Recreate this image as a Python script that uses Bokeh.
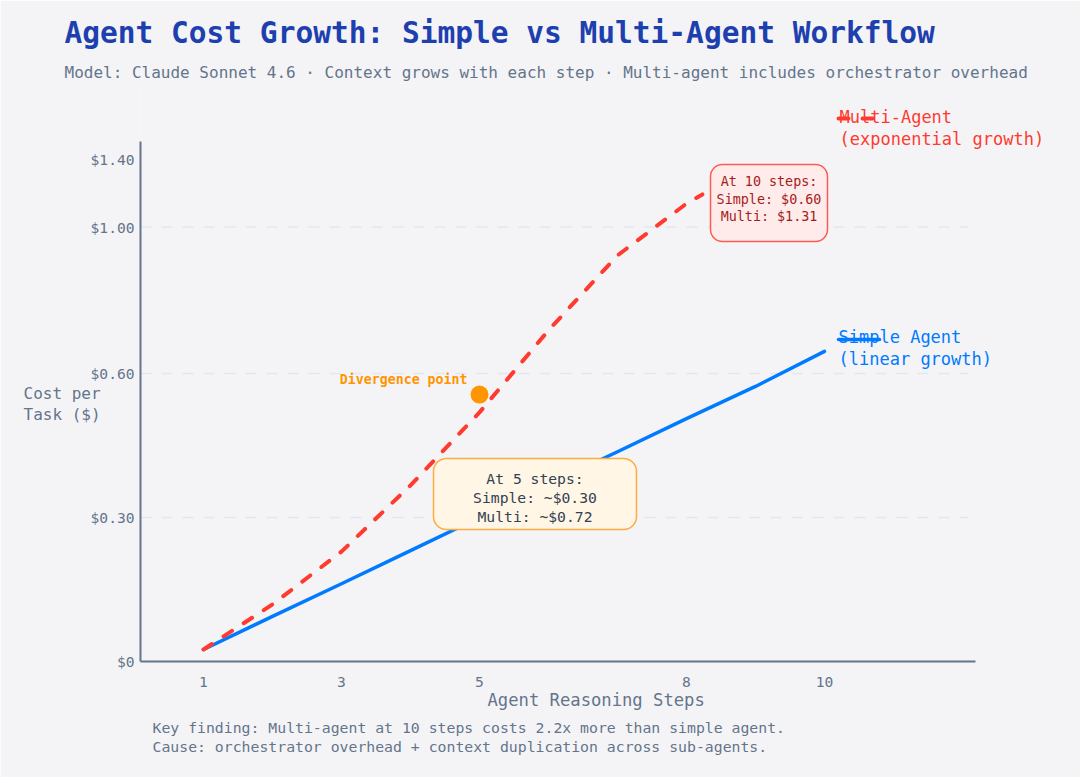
from bokeh.plotting import figure
from bokeh.models import FixedTicker, Label, Range1d, BoxAnnotation, ColumnDataSource, Title
from bokeh.embed import file_html
from bokeh.resources import INLINE

# ---------------- data ----------------
steps_simple = [1, 2, 3, 4, 5, 6, 7, 8, 9, 10]
cost_simple = [0.025, 0.094, 0.162, 0.231, 0.300, 0.369, 0.437, 0.506, 0.573, 0.646]
steps_multi = [1, 2, 3, 4, 5, 6, 7, 8, 8.23]
cost_multi = [0.025, 0.119, 0.229, 0.367, 0.519, 0.690, 0.846, 0.954, 0.973]
divergence_step = [5]
divergence_cost = [0.556]
x_ticks = [1, 3, 5, 8, 10]
x_tick_labels = ["1", "3", "5", "8", "10"]
y_tick_pos = [0.0, 0.30, 0.60, 0.905, 1.046]
y_tick_labels = ["$0", "$0.30", "$0.60", "$1.00", "$1.40"]
grid_pos = [0.30, 0.60, 0.905]

# ---------------- layout helpers ----------------
BG = "#f4f4f7"
AXIS = "#64748b"
FONT = "DejaVu Sans Mono"
BLUE = "#007aff"
RED = "#ff3b30"
ORANGE = "#ff9500"

STEP1_PX, STEP_PX = 203, 69.0
ZERO_PX, DOLLAR_PX = 661, 480.0
FRAME_TOP_PX = 83


def X(px):
    return 1 + (px - STEP1_PX) / STEP_PX


def Y(py):
    return (ZERO_PX - py) / DOLLAR_PX


p = figure(width=1080, height=777, title=None,
           x_range=Range1d(X(140), X(1080)), y_range=Range1d(Y(661), Y(FRAME_TOP_PX)),
           output_backend="svg", toolbar_location=None,
           min_border_left=140, min_border_right=0, min_border_top=0,
           min_border_bottom=116,
           background_fill_color=BG, border_fill_color=BG,
           outline_line_color=None)

# titles (above panels: first added is nearest to the frame)
p.add_layout(Title(text="Model: Claude Sonnet 4.6 · Context grows with each step · Multi-agent includes orchestrator overhead",
                   text_font=FONT, text_font_size="16px", text_font_style="normal",
                   text_color=AXIS, align="left", offset=-76, standoff=0,
                   vertical_align="top"), "above")
p.add_layout(Title(text="Agent Cost Growth: Simple vs Multi-Agent Workflow",
                   text_font=FONT, text_font_size="29.5px", text_font_style="bold",
                   text_color="#1e40af", align="left", offset=-76, standoff=26,
                   vertical_align="bottom"), "above")

# axes
for ax in (p.xaxis[0], p.yaxis[0]):
    ax.axis_line_color = AXIS
    ax.axis_line_width = 2
    ax.major_tick_line_color = None
    ax.minor_tick_line_color = None
    ax.major_tick_out = 0
    ax.major_tick_in = 0
    ax.major_label_text_font = FONT
    ax.major_label_text_font_size = "14.6px"
    ax.major_label_text_color = AXIS

p.xaxis.ticker = FixedTicker(ticks=x_ticks)
p.xaxis.major_label_overrides = {t: l for t, l in zip(x_ticks, x_tick_labels)}
p.xaxis.major_label_standoff = 15
p.xaxis.bounds = (X(140), X(975))

p.yaxis.ticker = FixedTicker(ticks=y_tick_pos)
p.yaxis.major_label_overrides = {t: l for t, l in zip(y_tick_pos, y_tick_labels)}
p.yaxis.major_label_standoff = 6
p.yaxis.bounds = (0, Y(141))
# leading blank lines push the horizontal label block down beside the axis
p.yaxis.axis_label = "\n\n\nCost per\nTask ($)"
p.yaxis.axis_label_orientation = "horizontal"
p.yaxis.axis_label_standoff = -13
p.yaxis.axis_label_text_font = FONT
p.yaxis.axis_label_text_font_size = "16px"
p.yaxis.axis_label_text_font_style = "normal"
p.yaxis.axis_label_text_color = AXIS
p.yaxis.axis_label_text_line_height = 1.1

# below panels: axis title and footnote
p.add_layout(Title(text="Agent Reasoning Steps", text_font=FONT, text_font_size="17.2px",
                   text_font_style="normal", text_color=AXIS, align="left", offset=347,
                   standoff=0, vertical_align="top"), "below")
p.add_layout(Title(text="Key finding: Multi-agent at 10 steps costs 2.2x more than simple agent.\n"
                        "Cause: orchestrator overhead + context duplication across sub-agents.",
                   text_font=FONT, text_font_size="14.8px", text_font_style="normal",
                   text_color=AXIS, align="left", offset=12, standoff=15,
                   text_line_height=1.1, vertical_align="top"), "below")

p.xgrid.grid_line_color = None
p.ygrid.grid_line_color = None
# dashed horizontal grid lines at the grid positions
p.segment(x0=[X(140)] * len(grid_pos), x1=[X(968)] * len(grid_pos), y0=grid_pos, y1=grid_pos,
          line_color="#e2e6ee", line_width=1.5, line_dash="11 10")

# data lines
src_s = ColumnDataSource(dict(x=steps_simple, y=cost_simple))
src_m = ColumnDataSource(dict(x=steps_multi, y=cost_multi))
p.line("x", "y", source=src_s, line_color=BLUE, line_width=3.5, line_cap="round", line_join="round")
p.line("x", "y", source=src_m, line_color=RED, line_width=4, line_dash="10 14",
       line_cap="round", line_join="round")
p.scatter(divergence_step, divergence_cost, size=18, fill_color=ORANGE, line_color=None)

# legend-like samples
p.line([X(838), X(878)], [Y(118), Y(118)], line_color=RED, line_width=4, line_dash="10 14", line_cap="round")
p.line([X(838), X(879)], [Y(339), Y(339)], line_color=BLUE, line_width=3.5, line_cap="round")


def txt(s, px, py, size, color, align="left", bold=False):
    p.add_layout(Label(x=X(px), y=Y(py), text=s, text_font=FONT, text_font_size=size,
                       text_color=color, text_align=align, text_baseline="middle",
                       text_font_style="bold" if bold else "normal"))


# legend texts
txt("Multi-Agent", 839, 116, "17px", RED)
txt("(exponential growth)", 839, 138, "17px", RED)
txt("Simple Agent", 838, 336, "17px", BLUE)
txt("(linear growth)", 838, 358, "17px", BLUE)

# divergence label
txt("Divergence point", 467, 379, "13.25px", ORANGE, align="right", bold=True)

# annotation boxes
p.add_layout(BoxAnnotation(left=X(433), right=X(636), top=Y(458), bottom=Y(529),
                           fill_color="#fff6e5", fill_alpha=1, line_color="#ffab40",
                           line_alpha=1, line_width=1.5, border_radius=13))
p.add_layout(BoxAnnotation(left=X(710), right=X(827), top=Y(164), bottom=Y(241),
                           fill_color="#ffecea", fill_alpha=1, line_color="#ff5a52",
                           line_alpha=1, line_width=1.5, border_radius=12))

txt("At 5 steps:", 534.5, 478, "14.7px", "#334155", align="center")
txt("Simple: ~$0.30", 534.5, 497, "14.7px", "#334155", align="center")
txt("Multi: ~$0.72", 534.5, 516, "14.7px", "#334155", align="center")

txt("At 10 steps:", 768.5, 181, "13.4px", "#a61b1b", align="center")
txt("Simple: $0.60", 768.5, 198.5, "13.4px", "#a61b1b", align="center")
txt("Multi: $1.31", 768.5, 216, "13.4px", "#a61b1b", align="center")

open("out.html", "w").write(file_html(p, INLINE))
